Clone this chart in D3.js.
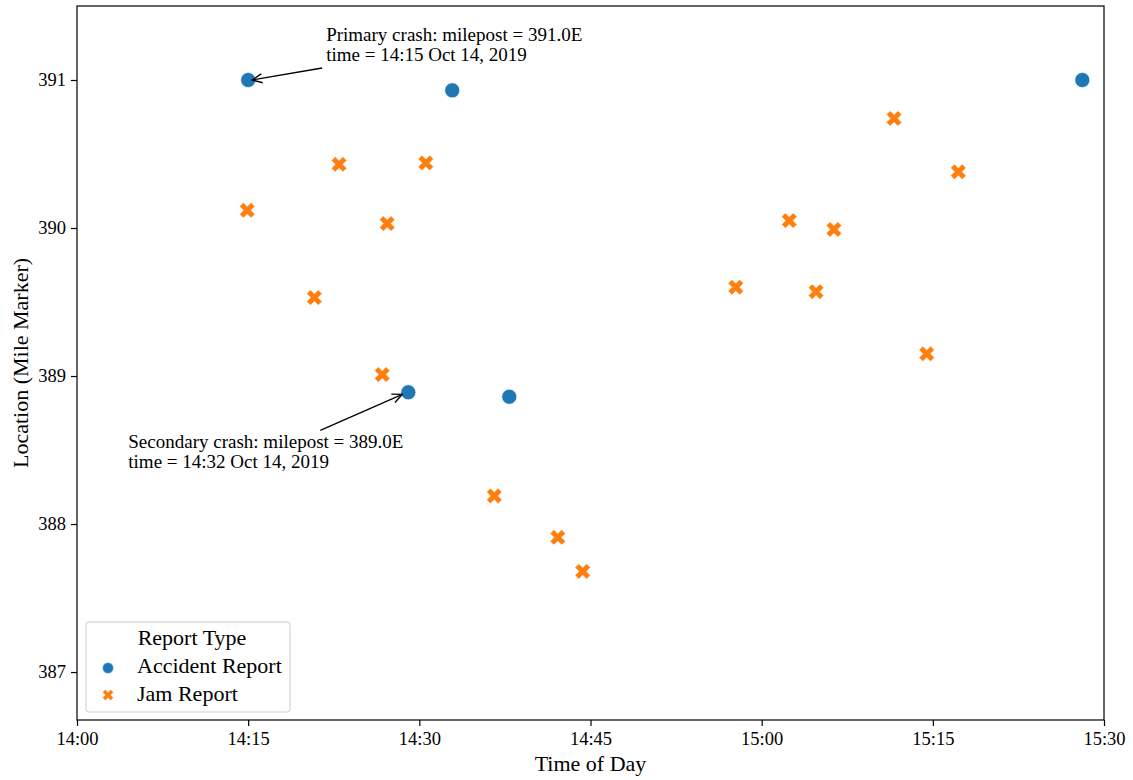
<!DOCTYPE html>
<html>
<head>
<meta charset="utf-8">
<script src="https://cdn.jsdelivr.net/npm/d3@7"></script>
<style>
  html, body { margin: 0; padding: 0; background: #fff; }
  svg { display: block; }
  text { font-family: "Liberation Serif", "Times New Roman", serif; fill: #000; }
</style>
</head>
<body>
<svg id="chart" width="1133" height="780"></svg>
<script>
// Report date shared by all records
const reportDate = "2019-10-14";

// Accident reports: time of day and mile marker
const accidentTimes = ["14:15:00", "14:32:53", "14:29:02", "14:37:53", "15:28:06"];
const accidentMiles = [391.0, 390.93, 388.89, 388.86, 391.0];

// Jam reports: time of day and mile marker
const jamTimes = ["14:14:55", "14:20:48", "14:22:58", "14:26:45", "14:27:11", "14:30:34",
                  "14:36:34", "14:42:08", "14:44:19", "14:57:44", "15:02:25", "15:04:46",
                  "15:06:20", "15:11:36", "15:14:28", "15:17:14"];
const jamMiles = [390.12, 389.53, 390.43, 389.01, 390.03, 390.44,
                  388.19, 387.91, 387.68, 389.60, 390.05, 389.57,
                  389.99, 390.74, 389.15, 390.38];

// Axis ticks
const yTicks = [387, 388, 389, 390, 391];
const xDomain = ["14:00:00", "15:30:00"];
const yDomain = [386.676, 391.5];

// Legend entries
const seriesNames = ["Accident Report", "Jam Report"];
const seriesColors = ["#1f77b4", "#ff7f0e"];

// Crash annotations: the point they refer to and their text lines
const noteTimes = ["14:15:00", "14:29:02"];
const noteMiles = [391.0, 388.89];
const noteLines = [
  ["Primary crash: milepost = 391.0E", "time = 14:15 Oct 14, 2019"],
  ["Secondary crash: milepost = 389.0E", "time = 14:32 Oct 14, 2019"]
];

const parseTime = d3.timeParse("%Y-%m-%d %H:%M:%S");
const toDate = t => parseTime(reportDate + " " + t);

const svg = d3.select("#chart");
const margin = { left: 77, right: 1104, top: 6, bottom: 720 };

const x = d3.scaleTime()
  .domain(xDomain.map(toDate))
  .range([margin.left, margin.right]);
const y = d3.scaleLinear()
  .domain(yDomain)
  .range([margin.bottom, margin.top]);

// Filled "X" marker, like matplotlib's 'X'
const filledX = {
  draw(context, size) {
    const r = Math.sqrt(size) / 2;          // half of the bounding extent
    const t = r * Math.SQRT2;               // arm reach along the diagonal
    const w = t * 0.25;                     // arm half-thickness
    const s = t - w;
    const pts = [[-w,-s],[w,-s],[w,-w],[s,-w],[s,w],[w,w],[w,s],[-w,s],[-w,w],[-s,w],[-s,-w],[-w,-w]];
    const c = Math.SQRT1_2;
    pts.forEach(([px, py], i) => {
      const rx = (px - py) * c, ry = (px + py) * c;
      if (i === 0) context.moveTo(rx, ry); else context.lineTo(rx, ry);
    });
    context.closePath();
  }
};

const accidents = accidentTimes.map((t, i) => ({ date: toDate(t), mile: accidentMiles[i] }));
const jams = jamTimes.map((t, i) => ({ date: toDate(t), mile: jamMiles[i] }));

// Axes
const xAxis = d3.axisBottom(x)
  .ticks(d3.timeMinute.every(15))
  .tickFormat(d3.timeFormat("%H:%M"))
  .tickSizeInner(6).tickSizeOuter(0).tickPadding(6);
const yAxis = d3.axisLeft(y)
  .tickValues(yTicks)
  .tickFormat(d3.format("d"))
  .tickSizeInner(6).tickSizeOuter(0).tickPadding(5);

const gx = svg.append("g")
  .attr("transform", `translate(0,${margin.bottom})`)
  .call(xAxis);
const gy = svg.append("g")
  .attr("transform", `translate(${margin.left},0)`)
  .call(yAxis);
[gx, gy].forEach(g => {
  g.select(".domain").remove();
  g.selectAll(".tick line").attr("stroke", "#000").attr("stroke-width", 1.2);
  g.selectAll(".tick text").style("font-family", "Liberation Serif").style("font-size", "18.5px").attr("fill", "#000");
});

// Frame around the plotting area
svg.append("rect")
  .attr("x", margin.left).attr("y", margin.top)
  .attr("width", margin.right - margin.left)
  .attr("height", margin.bottom - margin.top)
  .attr("fill", "none").attr("stroke", "#000").attr("stroke-width", 1.2);

// Axis titles
svg.append("text")
  .attr("x", (margin.left + margin.right) / 2).attr("y", 771)
  .attr("text-anchor", "middle")
  .style("font-size", "22px")
  .text("Time of Day");
svg.append("text")
  .attr("transform", `translate(28,${(margin.top + margin.bottom) / 2}) rotate(-90)`)
  .attr("text-anchor", "middle")
  .style("font-size", "22px")
  .text("Location (Mile Marker)");

// Points
const plot = svg.append("g");
plot.selectAll("path.jam")
  .data(jams)
  .join("path")
  .attr("class", "jam")
  .attr("transform", d => `translate(${x(d.date)},${y(d.mile)})`)
  .attr("d", d3.symbol().type(filledX).size(15.5 * 15.5))
  .attr("fill", seriesColors[1])
  .attr("stroke", "#fff").attr("stroke-width", 0.6);

plot.selectAll("circle.acc")
  .data(accidents)
  .join("circle")
  .attr("class", "acc")
  .attr("cx", d => x(d.date))
  .attr("cy", d => y(d.mile))
  .attr("r", 7.5)
  .attr("fill", seriesColors[0])
  .attr("stroke", "#fff").attr("stroke-width", 0.6);

// Annotations: text offset from the point, arrow drawn back to it
const noteOffsets = [
  { tx: 78, ty: -39, ax: 74, ay: -12, hx: 4, hy: 0 },
  { tx: -280, ty: 56, ax: -88, ay: 38, hx: -6, hy: 2 }
];
svg.append("defs").append("marker")
  .attr("id", "openhead")
  .attr("viewBox", "0 0 12 12")
  .attr("refX", 11).attr("refY", 6)
  .attr("markerWidth", 12).attr("markerHeight", 12)
  .attr("markerUnits", "userSpaceOnUse")
  .attr("orient", "auto")
  .append("path")
  .attr("d", "M1,1.5 L11,6 L1,10.5")
  .attr("fill", "none").attr("stroke", "#000").attr("stroke-width", 1.3);

noteLines.forEach((lines, i) => {
  const px = x(toDate(noteTimes[i])), py = y(noteMiles[i]);
  const o = noteOffsets[i];
  svg.append("line")
    .attr("x1", px + o.ax).attr("y1", py + o.ay)
    .attr("x2", px + o.hx).attr("y2", py + o.hy)
    .attr("stroke", "#000").attr("stroke-width", 1.3)
    .attr("marker-end", "url(#openhead)");
  const t = svg.append("text")
    .attr("x", px + o.tx).attr("y", py + o.ty)
    .style("font-size", "19px");
  lines.forEach((ln, j) => {
    t.append("tspan").attr("x", px + o.tx).attr("dy", j === 0 ? 0 : 20).text(ln);
  });
});

// Legend
const lg = svg.append("g");
lg.append("rect")
  .attr("x", 86).attr("y", 622).attr("width", 204).attr("height", 90)
  .attr("rx", 3).attr("ry", 3)
  .attr("fill", "#fff").attr("fill-opacity", 0.8)
  .attr("stroke", "#ccc").attr("stroke-width", 1);
lg.append("text")
  .attr("x", 192).attr("y", 645)
  .attr("text-anchor", "middle")
  .style("font-size", "22px")
  .text("Report Type");
seriesNames.forEach((name, i) => {
  const cy = 667 + i * 28;
  if (i === 0) {
    lg.append("circle").attr("cx", 108).attr("cy", cy + 1).attr("r", 5.5)
      .attr("fill", seriesColors[0]).attr("stroke", "#fff").attr("stroke-width", 0.5);
  } else {
    lg.append("path")
      .attr("transform", `translate(108,${cy})`)
      .attr("d", d3.symbol().type(filledX).size(11 * 11))
      .attr("fill", seriesColors[1]).attr("stroke", "#fff").attr("stroke-width", 0.5);
  }
  lg.append("text")
    .attr("x", 137).attr("y", 673 + i * 28)
    .style("font-size", "22px")
    .text(name);
});
</script>
</body>
</html>
